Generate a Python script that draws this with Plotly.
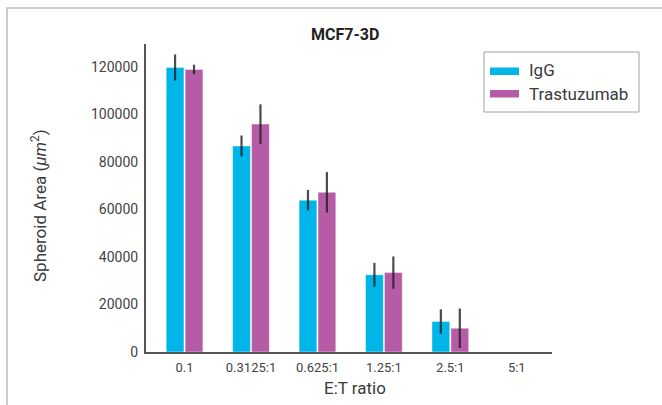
import plotly.graph_objects as go

categories = ["0.1", "0.3125:1", "0.625:1", "1.25:1", "2.5:1", "5:1"]
igg_mean = [119700, 86700, 63900, 32500, 12850, 0]
igg_err = [5500, 4400, 4300, 5000, 5100, 0]
tras_mean = [118900, 95900, 67200, 33400, 10000, 0]
tras_err = [2000, 8300, 8500, 6800, 8300, 0]
yticks = [0, 20000, 40000, 60000, 80000, 100000, 120000]

BLUE = "#00B5E8"
MAG = "#B65BA6"
FONT = "Roboto"
TXT = "#3a3a3a"

W, H = 662, 405
L, R, T, B = 146, 552, 44, 352


def px(x):
    return (x - L) / (R - L)


def py(y):
    return (B - y) / (B - T)


fig = go.Figure()
fig.add_trace(go.Bar(
    name="IgG", x=categories, y=igg_mean,
    marker=dict(color=BLUE, line=dict(color="rgba(255,255,255,0.45)", width=1)),
    error_y=dict(type="data", array=igg_err, color="rgba(30,30,30,0.8)", thickness=2.2, width=0),
))
fig.add_trace(go.Bar(
    name="Trastuzumab", x=categories, y=tras_mean,
    marker=dict(color=MAG, line=dict(color="rgba(255,255,255,0.45)", width=1)),
    error_y=dict(type="data", array=tras_err, color="rgba(30,30,30,0.8)", thickness=2.2, width=0),
))

shapes = [
    # outer frame
    dict(type="rect", xref="paper", yref="paper", x0=px(7), x1=px(700), y0=py(450), y1=py(8),
         line=dict(color="#bdbdbd", width=1.5), layer="below"),
    # legend box
    dict(type="rect", xref="paper", yref="paper", x0=px(484), x1=px(639), y0=py(112), y1=py(52),
         line=dict(color="#a0a0a0", width=1), fillcolor="white"),
    dict(type="rect", xref="paper", yref="paper", x0=px(490), x1=px(519), y0=py(75), y1=py(67.5),
         line=dict(width=0), fillcolor=BLUE),
    dict(type="rect", xref="paper", yref="paper", x0=px(490), x1=px(519), y0=py(97.5), y1=py(90),
         line=dict(width=0), fillcolor=MAG),
]

annotations = [
    dict(text="IgG", xref="paper", yref="paper", x=px(527), y=py(70), xanchor="left", yanchor="middle",
         showarrow=False, font=dict(family=FONT, size=17, color=TXT)),
    dict(text="Trastuzumab", xref="paper", yref="paper", x=px(527), y=py(94), xanchor="left", yanchor="middle",
         showarrow=False, font=dict(family=FONT, size=17, color=TXT)),
    dict(text="Spheroid Area (<i>μm</i><sup>2</sup>)", xref="paper", yref="paper", x=px(39), y=py(206),
         xanchor="center", yanchor="middle", textangle=-90, showarrow=False,
         font=dict(family=FONT, size=17, color=TXT)),
    dict(text="E:T ratio", xref="paper", yref="paper", x=px(355), y=py(388),
         xanchor="center", yanchor="middle", showarrow=False,
         font=dict(family=FONT, size=17, color=TXT)),
    dict(text="<b>MCF7-3D</b>", xref="paper", yref="paper", x=px(345), y=py(35),
         xanchor="center", yanchor="middle", showarrow=False,
         font=dict(family=FONT, size=16, color="#222")),
]

fig.update_layout(
    width=W, height=H,
    margin=dict(l=L, r=W - R, t=T, b=H - B, pad=0),
    paper_bgcolor="white", plot_bgcolor="white",
    showlegend=False,
    barmode="group", bargap=0.43, bargroupgap=0.06,
    font=dict(family=FONT, color=TXT),
    shapes=shapes, annotations=annotations,
    xaxis=dict(range=[-0.58, 5.53], showline=True, linecolor="#555", linewidth=2,
               ticks="outside", ticklen=2, tickcolor="rgba(0,0,0,0)",
               tickfont=dict(family=FONT, size=13, color="#444"), showgrid=False, zeroline=False),
    yaxis=dict(range=[0, 129600], tickvals=yticks, tickformat="d", showline=True,
               linecolor="#555", linewidth=2, ticks="outside", ticklen=3,
               tickcolor="rgba(0,0,0,0)", tickfont=dict(family=FONT, size=14, color="#444"),
               showgrid=False, zeroline=False),
)

fig.write_html("out.html")
